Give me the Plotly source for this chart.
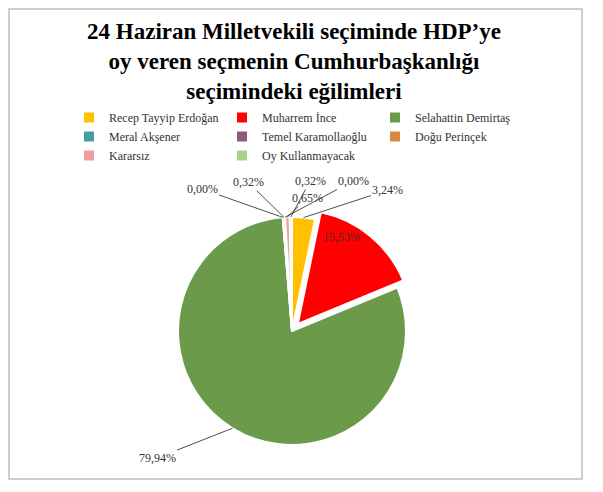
import math
import plotly.graph_objects as go

# ─────────────────────────────────────────────
# Veriler
# ─────────────────────────────────────────────
adaylar = [
    "Recep Tayyip Erdoğan",
    "Muharrem İnce",
    "Selahattin Demirtaş",
    "Meral Akşener",
    "Temel Karamollaoğlu",
    "Doğu Perinçek",
    "Kararsız",
    "Oy Kullanmayacak",
]
oranlar = [3.24, 15.53, 79.94, 0.00, 0.32, 0.00, 0.65, 0.32]

renkler = ["#FFC000", "#FF0000", "#6A9A4A", "#4A9BAA",
           "#8E5B7E", "#D9883F", "#EF9E9E", "#A9D18E"]
cekme = [0, 0.08, 0, 0, 0, 0, 0, 0]

# etiketlerin sayfadaki yerleri (piksel) ve çizgi olup olmadığı
etiket_yeri = [(388, 190), (341, 237), (157, 458), (202, 189),
               (248, 182), (353, 181), (307, 198), (310, 181)]
etiket_cizgi = [True, False, True, True, True, True, True, True]

# ─────────────────────────────────────────────
# Sayfa ölçüleri (gövde kenar boşluğu 8 px)
# ─────────────────────────────────────────────
OFF = 8
W, H = 603 - 2 * OFF, 492 - 2 * OFF


def px_x(x):
    return (x - OFF) / W


def px_y(y):
    return 1 - (y - OFF) / H


CX, CY, R = 292, 331, 114          # pastanın merkezi ve yarıçapı (sayfa px)
YARIM = R * (1 + max(cekme))

fig = go.Figure(
    go.Pie(
        labels=adaylar,
        values=oranlar,
        sort=False,
        direction="clockwise",
        rotation=0,
        pull=cekme,
        marker=dict(colors=renkler, line=dict(color="white", width=2)),
        textinfo="none",
        domain=dict(x=[px_x(CX - YARIM), px_x(CX + YARIM)],
                    y=[px_y(CY + YARIM), px_y(CY - YARIM)]),
        hovertemplate="<b>%{label}</b><br>%{percent:.2%}<extra></extra>",
    )
)

# ─────────────────────────────────────────────
# Yüzde etiketleri
# ─────────────────────────────────────────────
toplam = sum(oranlar)
birikim = 0
etiketler = []
for deger, (tx, ty), cizgi in zip(oranlar, etiket_yeri, etiket_cizgi):
    aci = 2 * math.pi * (birikim + deger / 2) / toplam
    birikim += deger
    ex = CX + R * math.sin(aci)
    ey = CY - R * math.cos(aci)
    yazi = f"{deger:.2f}".replace(".", ",") + "%"
    if cizgi:
        etiketler.append(dict(
            x=px_x(ex), y=px_y(ey), xref="paper", yref="paper",
            ax=tx - ex, ay=ty - ey,
            text=yazi, showarrow=True, arrowhead=0, arrowwidth=0.8,
            arrowcolor="#222", standoff=0, startstandoff=0,
            font=dict(family="Liberation Serif", size=12, color="#333"),
        ))
    else:
        etiketler.append(dict(
            x=px_x(tx), y=px_y(ty), xref="paper", yref="paper",
            text=yazi, showarrow=False,
            font=dict(family="Liberation Serif", size=12, color="#333"),
        ))

fig.update_layout(
    width=W,
    height=H,
    separators=",.",
    margin=dict(t=0, l=0, r=0, b=0),
    paper_bgcolor="white",
    font=dict(family="Liberation Serif", color="#222"),
    title=dict(
        text="<b>24 Haziran Milletvekili seçiminde HDP’ye<br>"
             "oy veren seçmenin Cumhurbaşkanlığı<br>"
             "seçimindeki eğilimleri</b>",
        font=dict(family="Liberation Serif", size=23, color="black"),
        x=px_x(294),
        xanchor="center",
        y=px_y(39),
        yanchor="middle",
    ),
    legend=dict(
        orientation="h",
        x=px_x(69),
        y=px_y(103),
        xanchor="left",
        yanchor="top",
        entrywidth=108,
        entrywidthmode="pixels",
        itemwidth=30,
        font=dict(family="Liberation Serif", size=12, color="#333"),
    ),
    annotations=etiketler,
    shapes=[
        dict(type="rect", xref="paper", yref="paper",
             x0=px_x(9), x1=px_x(582), y0=px_y(479), y1=px_y(9),
             line=dict(color="#BFBFBF", width=1.5))
    ],
)

fig.write_html("out.html")
